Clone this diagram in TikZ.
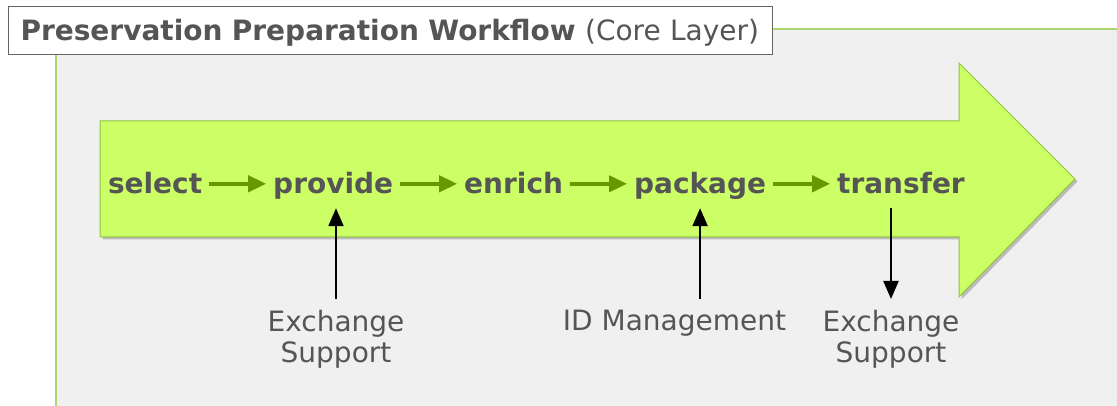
\documentclass[tikz,border=0pt]{standalone}
\usepackage{fontspec}
\setmainfont{DejaVu Sans}
\usetikzlibrary{shapes,arrows.meta,positioning,shadows}

\definecolor{textgray}{HTML}{555555}
\definecolor{flowgreen}{HTML}{669900}
\definecolor{arrowfill}{HTML}{CCFF66}
\definecolor{arrowline}{HTML}{8FC43C}
\definecolor{panelgray}{HTML}{F0F0F0}
\definecolor{panelline}{HTML}{ADD46E}

\begin{document}
\begin{tikzpicture}[
    x=1pt, y=-1pt,
    titlebox/.style={draw=black!60, fill=white, line width=1pt, anchor=north west, text width=740pt, align=left, inner xsep=12pt, inner ysep=0pt, text height=34pt, text depth=14pt, text=textgray, font=\fontsize{28}{32}\selectfont},
    stepnode/.style={font=\fontsize{28}{32}\selectfont\bfseries, text=textgray, inner sep=4pt, outer xsep=3pt, outer ysep=4pt, text height=26.6pt, text depth=6.2pt},
    helper/.style={font=\fontsize{28}{31}\selectfont, text=textgray, align=center, inner sep=4pt, outer ysep=7pt, anchor=north},
    bigarrow/.style={fill=arrowfill, draw=arrowline, line width=1pt, drop shadow={shadow xshift=2.5pt, shadow yshift=-2.5pt, opacity=0.22, fill=black}},
    flow/.style={-{Triangle[length=18pt,width=16pt]}, flowgreen, line width=4pt},
    support/.style={-{Triangle[length=18pt,width=15pt]}, black, line width=2.2pt}
]
\useasboundingbox (0,0) rectangle (1117,406);

% Panel
\fill[panelgray] (56,29.5) rectangle (1117,406);
\draw[panelline, line width=2pt] (1117,29.5) -- (56,29.5) -- (56,406);

% Title
\node[titlebox] (title) at (8,6) {{\bfseries Preservation Preparation Workflow} (Core Layer)};

% Big arrow
\filldraw[bigarrow] (100,121) -- (959,121) -- (959,63) -- (1075,179) -- (959,297) -- (959,237) -- (100,237) -- cycle;

% Steps
\node[stepnode, anchor=base west] (select) at (101,194) {select};
\node[stepnode, base right=57pt of select] (provide) {provide};
\node[stepnode, base right=57pt of provide] (enrich) {enrich};
\node[stepnode, base right=57pt of enrich] (package) {package};
\node[stepnode, base right=57pt of package] (transfer) {transfer};

\foreach \a/\b in {select/provide, provide/enrich, enrich/package, package/transfer}
    \draw[flow] (\a) -- (\b);

% Supporting services
\node[helper] (exchA) at (336,299) {Exchange\\Support};
\node[helper] (idmgmt) at (674.5,299) {ID Management};
\node[helper] (exchB) at (891,299) {Exchange\\Support};

\draw[support] (exchA.north) -- (exchA.north |- provide.south);
\draw[support] (idmgmt.north -| package) -- (package.south);
\draw[support] (transfer.south -| exchB.north) -- (exchB.north);

\end{tikzpicture}
\end{document}
